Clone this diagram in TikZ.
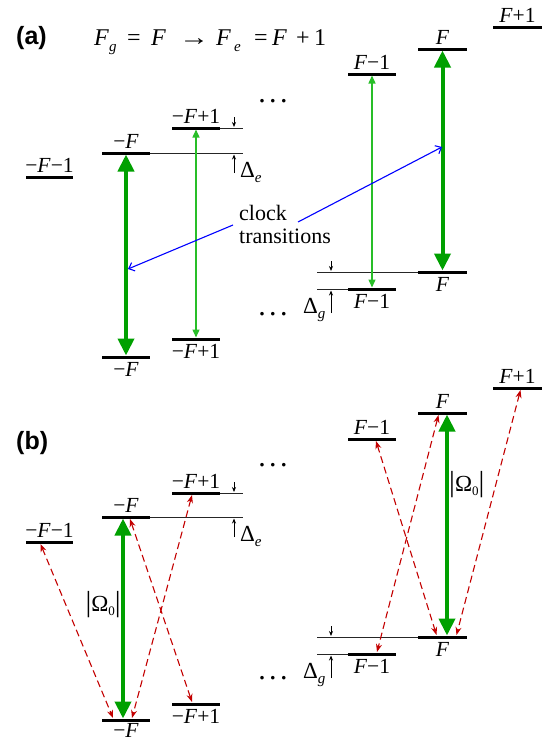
\documentclass[tikz,border=0pt]{standalone}
\usepackage{fontspec}
\setmainfont{Liberation Serif}
\newfontfamily\labsans{Liberation Sans}
\usetikzlibrary{arrows.meta,calc}
\definecolor{gthick}{RGB}{0,160,0}
\definecolor{gthin}{RGB}{40,190,40}
\definecolor{dred}{RGB}{195,0,0}
\definecolor{cblue}{RGB}{0,0,255}
\newcommand{\F}{\textit{F}}
\newcommand{\mysub}[1]{\raisebox{-6pt}{\fontsize{15}{15}\selectfont\textit{#1}}}
\newcommand{\dsub}[1]{\raisebox{-5pt}{\fontsize{15}{15}\selectfont\textit{#1}}}
\newcommand{\omlab}{{\fontsize{29}{29}\selectfont|}Ω\raisebox{-4pt}{\fontsize{13}{13}\selectfont 0}{\fontsize{29}{29}\selectfont|}}
\newcommand{\lvl}[4]{%
  \coordinate (#1-l) at (#2,#4);
  \coordinate (#1-r) at (#3,#4);
  \coordinate (#1) at ({(#2+#3)/2},#4);
  \draw[bar] (#1-l) -- (#1-r);}
\newcommand{\lblup}[2]{\node[lab,anchor=base] (#1-t) at ($(#1)+(0,-5)$) {#2};}
\newcommand{\lbldn}[2]{\node[lab,anchor=base] (#1-t) at ($(#1)+(0,19)$) {#2};}
\begin{document}
\begin{tikzpicture}[x=1pt,y=-1pt,
  bar/.style={line width=3pt},
  thinln/.style={line width=0.9pt,black!85},
  lab/.style={font=\fontsize{21.5}{24}\selectfont,inner sep=0pt},
  dlab/.style={font=\fontsize{23}{24}\selectfont,inner sep=0pt,anchor=base west},
  dotsnode/.style={font=\fontsize{30}{30}\selectfont,inner sep=0pt,anchor=base},
  garrow/.style={gthick,line width=4pt,shorten <=1.5pt,shorten >=1.5pt,
    {Triangle[length=17pt,width=16pt]}-{Triangle[length=17pt,width=16pt]}},
  gtarrow/.style={gthin,line width=1.4pt,shorten <=1.5pt,shorten >=1.5pt,
    {Triangle[length=8pt,width=7pt]}-{Triangle[length=8pt,width=7pt]}},
  redarr/.style={dred,line width=1.1pt,dash pattern=on 7pt off 4pt,
    {Stealth[length=8pt,width=6pt]}-{Stealth[length=8pt,width=6pt]}},
  bluearr/.style={cblue,line width=1.1pt,-{Straight Barb[length=5pt,width=9pt]}},
  smallarr/.style={line width=0.8pt,-{Stealth[length=5pt,width=4pt]}},
  panel/.style={font=\labsans\bfseries\fontsize{25}{28}\selectfont,inner sep=0pt,anchor=base west}]
\useasboundingbox (0,0) rectangle (550,744);

% ---------------- panel (a) ----------------
\node[panel] (pa) at (16,44) {(a)};
\node[inner sep=0pt,anchor=base west,font=\fontsize{24}{26}\selectfont] (eq) at (94,45)
 {\makebox[15pt][l]{\F}\makebox[18pt][l]{\mysub{g}}\makebox[24pt][l]{=}\makebox[28pt][l]{\F}\makebox[37pt][l]{\scalebox{1.25}[1]{→}}\makebox[18pt][l]{\F}\makebox[20pt][l]{\mysub{e}}\makebox[18pt][l]{=}\makebox[24pt][l]{\F}\makebox[18pt][l]{+}1};

\lvl{aEm1}{26}{73}{177}
\lvl{aE0}{102}{150}{153}
\lvl{aE1}{172}{220}{128}
\lvl{aEF1}{348}{396}{74}
\lvl{aEF}{418}{467}{49}
\lvl{aEF2}{493}{542}{27}
\lvl{aG0}{102}{150}{357}
\lvl{aG1}{172}{220}{339}
\lvl{aGF1}{348}{396}{289}
\lvl{aGF}{418}{467}{272}

\lblup{aEm1}{−\F−1}
\lblup{aE0}{−\F}
\lblup{aE1}{−\F+1}
\lblup{aEF1}{\F−1}
\lblup{aEF}{\F}
\lblup{aEF2}{\F+1}
\lbldn{aG0}{−\F}
\lbldn{aG1}{−\F+1}
\lbldn{aGF1}{\F−1}
\lbldn{aGF}{\F}

\coordinate (aE0x) at (243,153);
\coordinate (aE1x) at (243,128);
\coordinate (aGFx) at (317,272);
\coordinate (aGF1x) at (317,289);
\draw[thinln] (aE0-r) -- (aE0x);
\draw[thinln] (aE1-r) -- (aE1x);
\draw[thinln] (aGFx) -- (aGF-l);
\draw[thinln] (aGF1x) -- (aGF1-l);

\coordinate (aDe1s) at (234,117); \coordinate (aDe1t) at (234,127);
\coordinate (aDe2s) at (234,173); \coordinate (aDe2t) at (234,154.5);
\draw[smallarr] (aDe1s) -- (aDe1t);
\draw[smallarr] (aDe2s) -- (aDe2t);
\coordinate (aDg1s) at (331,261); \coordinate (aDg1t) at (331,271);
\coordinate (aDg2s) at (331,313); \coordinate (aDg2t) at (331,290.5);
\draw[smallarr] (aDg1s) -- (aDg1t);
\draw[smallarr] (aDg2s) -- (aDg2t);
\node[dlab] (aDe) at (240,177) {Δ\dsub{e}};
\node[dlab] (aDg) at (303,313) {Δ\dsub{g}};

\node[dotsnode] (adots1) at (273,102) {.\hspace{3.5pt}.\hspace{3.5pt}.};
\node[dotsnode] (adots2) at (273,315) {.\hspace{3.5pt}.\hspace{3.5pt}.};

\draw[garrow] (aE0) -- (aG0);
\draw[gtarrow] (aE1) -- (aG1);
\draw[gtarrow] (aEF1) -- (aGF1);
\draw[garrow] (aEF) -- (aGF);

\node[inner sep=0pt,anchor=north west,align=left,font=\fontsize{22}{23}\selectfont] (clk) at (239,205) {clock\\transitions};
\coordinate (bl1s) at (298,222); \coordinate (bl1t) at (442,147);
\coordinate (bl2s) at (233,225); \coordinate (bl2t) at (128,269);
\draw[bluearr] (bl1s) -- (bl1t);
\draw[bluearr] (bl2s) -- (bl2t);

% ---------------- panel (b) ----------------
\node[panel] (pb) at (16,449) {(b)};

\lvl{bEm1}{26}{73}{542}
\lvl{bE0}{102}{150}{517}
\lvl{bE1}{172}{220}{493}
\lvl{bEF1}{348}{396}{439}
\lvl{bEF}{418}{467}{413}
\lvl{bEF2}{493}{542}{388}
\lvl{bG0}{102}{150}{720}
\lvl{bG1}{172}{220}{704}
\lvl{bGF1}{348}{396}{654}
\lvl{bGF}{418}{467}{637}

\lblup{bEm1}{−\F−1}
\lblup{bE0}{−\F}
\lblup{bE1}{−\F+1}
\lblup{bEF1}{\F−1}
\lblup{bEF}{\F}
\lblup{bEF2}{\F+1}
\node[lab,anchor=base] (bG0-t) at ($(bG0)+(0,17)$) {−\F};
\lbldn{bG1}{−\F+1}
\lbldn{bGF1}{\F−1}
\lbldn{bGF}{\F}

\coordinate (bE0x) at (243,517);
\coordinate (bE1x) at (243,493);
\coordinate (bGFx) at (317,637);
\coordinate (bGF1x) at (317,654);
\draw[thinln] (bE0-r) -- (bE0x);
\draw[thinln] (bE1-r) -- (bE1x);
\draw[thinln] (bGFx) -- (bGF-l);
\draw[thinln] (bGF1x) -- (bGF1-l);

\coordinate (bDe1s) at (234,482); \coordinate (bDe1t) at (234,492);
\coordinate (bDe2s) at (234,537); \coordinate (bDe2t) at (234,518.5);
\draw[smallarr] (bDe1s) -- (bDe1t);
\draw[smallarr] (bDe2s) -- (bDe2t);
\coordinate (bDg1s) at (331,626); \coordinate (bDg1t) at (331,636);
\coordinate (bDg2s) at (331,678); \coordinate (bDg2t) at (331,655.5);
\draw[smallarr] (bDg1s) -- (bDg1t);
\draw[smallarr] (bDg2s) -- (bDg2t);
\node[dlab] (bDe) at (240,541) {Δ\dsub{e}};
\node[dlab] (bDg) at (303,678) {Δ\dsub{g}};

\node[dotsnode] (bdots1) at (273,466) {.\hspace{3.5pt}.\hspace{3.5pt}.};
\node[dotsnode] (bdots2) at (273,679) {.\hspace{3.5pt}.\hspace{3.5pt}.};

\draw[garrow] ($(bE0)+(-3,0)$) -- ($(bG0)+(-3,0)$);
\draw[garrow] ($(bEF)+(4.5,0)$) -- ($(bGF)+(4.5,0)$);
\node[font=\fontsize{23}{24}\selectfont,inner sep=0pt,anchor=base east] (om1) at (121,611) {\omlab};
\node[font=\fontsize{23}{24}\selectfont,inner sep=0pt,anchor=base west] (om2) at (449,491) {\omlab};

\draw[redarr] ($(bEm1)+(-9,2)$) -- ($(bG0)+(-13,-2)$);
\draw[redarr] ($(bE0)+(4,2)$) -- ($(bG1)+(-4,-2)$);
\draw[redarr] ($(bE1)+(-4,2)$) -- ($(bG0)+(6,-2)$);
\draw[redarr] ($(bEF1)+(4,2)$) -- ($(bGF)+(-6,-2)$);
\draw[redarr] ($(bEF)+(-4,2)$) -- ($(bGF1)+(5,-2)$);
\draw[redarr] ($(bEF2)+(3,2)$) -- ($(bGF)+(14,-2)$);
\end{tikzpicture}
\end{document}
